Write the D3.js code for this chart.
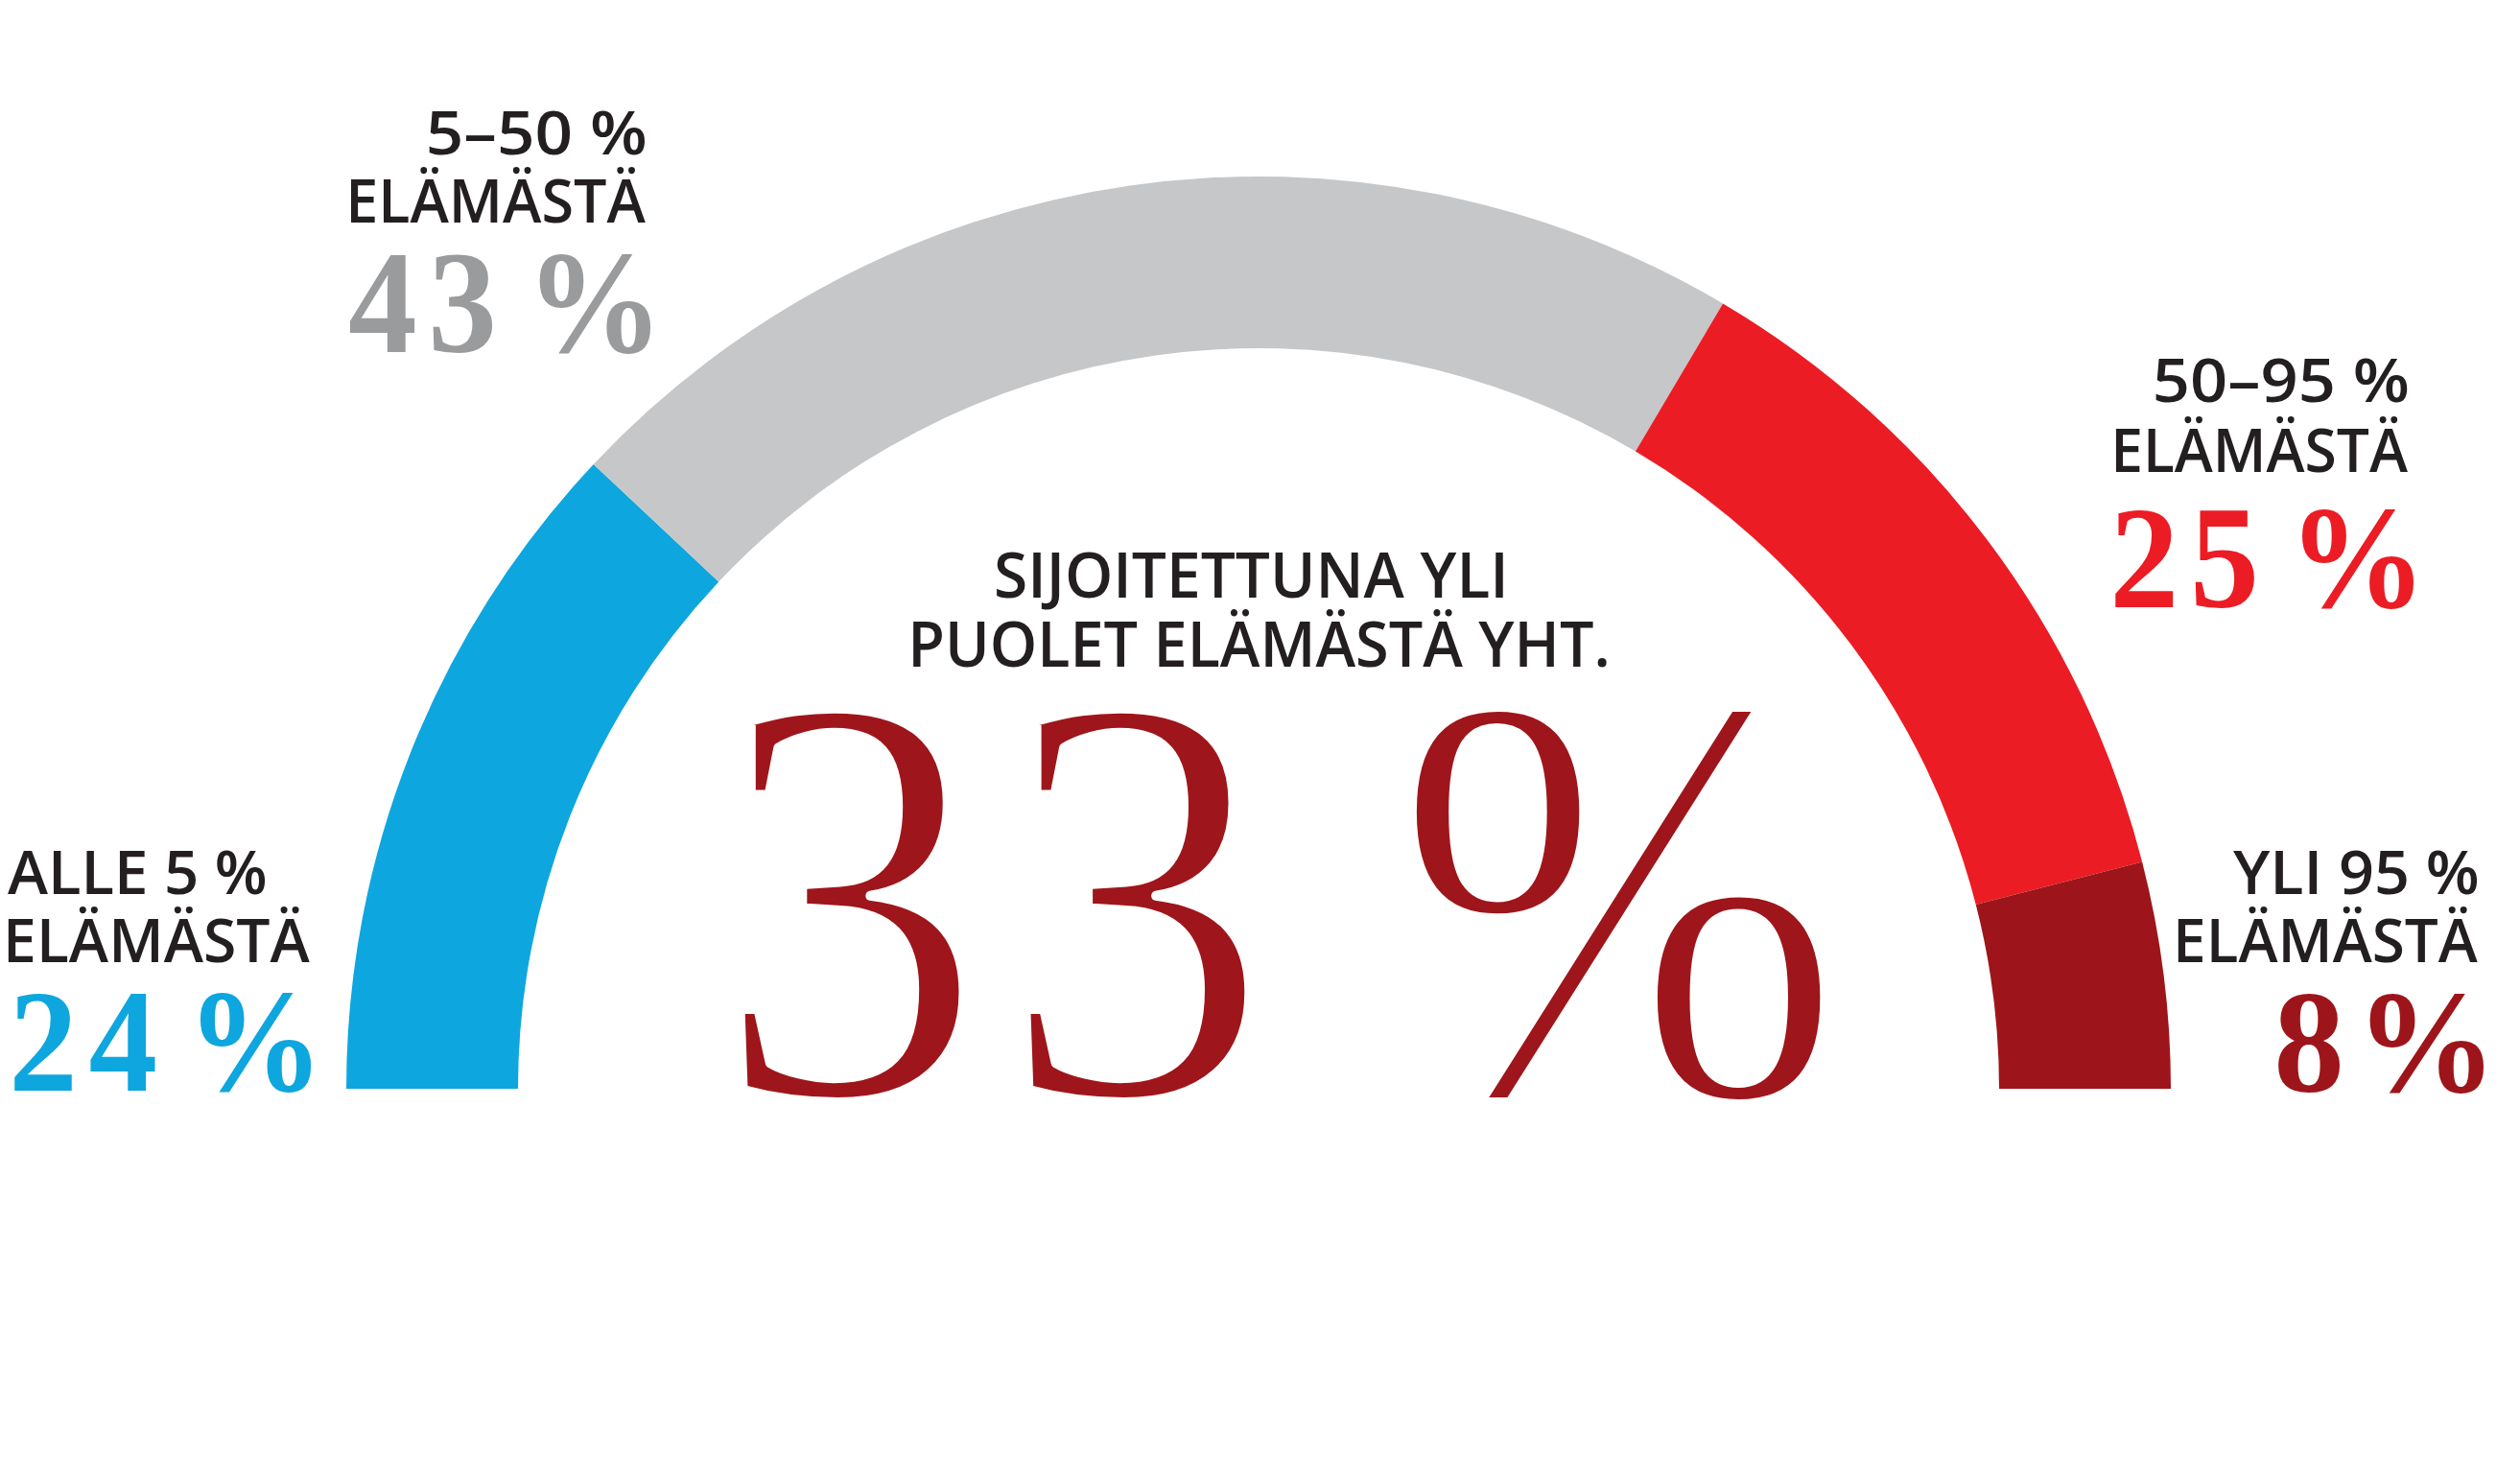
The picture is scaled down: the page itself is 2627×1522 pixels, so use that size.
<!DOCTYPE html>
<html>
<head>
<meta charset="utf-8">
<script src="https://cdn.jsdelivr.net/npm/d3@7"></script>
<style>
  html, body { margin: 0; padding: 0; background: #ffffff; }
  svg { display: block; }
</style>
</head>
<body>
<svg id="chart" width="2627" height="1522"></svg>
<script>
// ---- data ----
const categories = ["ALLE 5 %", "5–50 %", "50–95 %", "YLI 95 %"];
const shares = [24, 43, 25, 8];
const shareLabels = ["24 %", "43 %", "25 %", "8%"];
const subLabel = "ELÄMÄSTÄ";
const colors = ["#0ea6de", "#c6c7c9", "#ec1c24", "#9d151a"];
const numberColors = ["#0ea6de", "#9a9b9d", "#ec1c24", "#9d151a"];
const centerTitle = ["SIJOITETTUNA YLI", "PUOLET ELÄMÄSTÄ YHT."];
const centerValue = "33 %";

// ---- layout ----
const cx = 1312, cy = 1135, R = 951, r = 772;
const svg = d3.select("#chart");

const pie = d3.pie().sort(null).startAngle(-Math.PI / 2).endAngle(Math.PI / 2);
const arc = d3.arc().innerRadius(r).outerRadius(R);

svg.append("g")
  .attr("transform", `translate(${cx},${cy})`)
  .selectAll("path")
  .data(pie(shares))
  .join("path")
  .attr("d", arc)
  .attr("fill", (d, i) => colors[i]);

// ---- text fitting via canvas ink metrics ----
const ctx = document.createElement("canvas").getContext("2d");
const SANS = "'Open Sans', 'Noto Sans', sans-serif";
const SERIF = "'Liberation Serif', 'Times New Roman', Tinos, Times, serif";

function fitText(str, family, weight, refHeight, refChar, left, right, baseline, color, lsEm = 0, wsEm = 0, thin = 0) {
  ctx.font = `${weight} 100px ${family}`;
  const refAsc = ctx.measureText(refChar).actualBoundingBoxAscent;
  const fs = refHeight / refAsc * 100;
  ctx.font = `${weight} ${fs}px ${family}`;
  const m = ctx.measureText(str);
  const chars = Array.from(str);
  const n = chars.length;
  const nSpaces = chars.slice(0, n - 1).filter(ch => ch === " ").length;
  const ls = lsEm * fs, ws = wsEm * fs;
  const inkW = m.actualBoundingBoxLeft + m.actualBoundingBoxRight + ls * (n - 1) + ws * nSpaces - thin;
  const sx = (right - left) / inkW;
  const tx = left + (m.actualBoundingBoxLeft - thin / 2) * sx;
  const t = svg.append("text")
    .attr("transform", `translate(${tx},${baseline + thin / 2}) scale(${sx},1)`)
    .attr("x", 0).attr("y", 0)
    .attr("font-family", family)
    .attr("font-weight", weight)
    .attr("font-size", fs)
    .attr("letter-spacing", ls)
    .attr("word-spacing", ws)
    .attr("fill", color)
    .text(str);
  if (thin > 0) t.attr("stroke", "#ffffff").attr("stroke-width", thin).attr("stroke-linejoin", "round");
}

const ink = "#231f20";
const blocks = [
  { l1: [8, 277, 932], l2: [8, 323, 1003], n: [15, 325, 1137] },
  { l1: [447, 673, 161], l2: [365, 673, 232], n: [365, 679, 367] },
  { l1: [2247, 2510, 419], l2: [2205, 2510, 492], n: [2205, 2517, 633] },
  { l1: [2328, 2583, 932], l2: [2270, 2583, 1003], n: [2375, 2590, 1138] }
];

categories.forEach((c, i) => {
  const b = blocks[i];
  fitText(c, SANS, 600, 45, "E", b.l1[0], b.l1[1], b.l1[2], ink);
  fitText(subLabel, SANS, 600, 45, "E", b.l2[0], b.l2[1], b.l2[2], ink);
  fitText(shareLabels[i], SERIF, 700, 99, "4", b.n[0], b.n[1], b.n[2], numberColors[i], 0.08, -0.2);
});

fitText(centerTitle[0], SANS, 600, 46, "E", 1039, 1567, 623, ink);
fitText(centerTitle[1], SANS, 600, 46, "E", 952, 1675, 695, ink);
fitText(centerValue, SERIF, 400, 403, "3", 776, 1905, 1138, "#9e161b", 0.03, -0.08, 10);
</script>
</body>
</html>
